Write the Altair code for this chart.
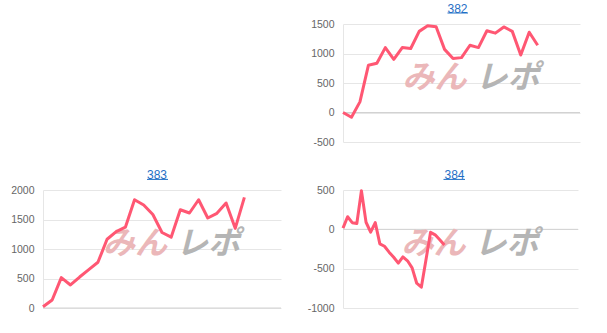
import altair as alt
import pandas as pd

# ---- data ----
v382 = [0, -80, 180, 800, 835, 1100, 900, 1100, 1085, 1375, 1470, 1455, 1070, 915,
        930, 1140, 1100, 1385, 1345, 1450, 1375, 975, 1360, 1140]
v383 = [20, 135, 515, 390, 525, 650, 775, 1165, 1295, 1370, 1835, 1745, 1585, 1280,
        1200, 1665, 1610, 1835, 1525, 1605, 1780, 1350, 1875]
v384 = [15, 160, 85, 75, 490, 90, -35, 85, -185, -215, -290, -355, -430, -350, -400,
        -490, -685, -735, -390, -38, -70, -133, -200]

titles = ["382", "383", "384"]
xmax = [28, 26, 51]
ydomains = [[-500, 1500], [0, 2000], [-1000, 500]]
yticks = [[-500, 0, 500, 1000, 1500], [0, 500, 1000, 1500, 2000], [-1000, -500, 0, 500]]

LINE = "#ff5773"
BLUE = "#1f6fc5"
FONT = "Liberation Sans"
NOSTROKE = alt.ViewBackground(stroke="transparent", strokeWidth=0, strokeOpacity=0)


def panel(vals, xm, ydom, yt, title, width, height, extent, tdx, ul):
    df = pd.DataFrame({"i": list(range(len(vals))), "v": vals})
    one = pd.DataFrame({"k": [0]})
    zero = pd.DataFrame({"v": [0]})
    yscale = alt.Scale(domain=ydom, nice=False, zero=False)
    yaxis = alt.Axis(values=yt, title=None, ticks=False, labelPadding=9,
                     labelFontSize=10.5, labelColor="#666", labelFont=FONT,
                     labelExpr="'' + datum.value",
                     gridColor="#e6e6e6", domainColor="#e6e6e6",
                     minExtent=extent, maxExtent=extent, labelFlush=False)
    line = alt.Chart(df).mark_line(color=LINE, strokeWidth=3, strokeJoin="round").encode(
        x=alt.X("i:Q", scale=alt.Scale(domain=[0, xm], nice=False, zero=False), axis=None),
        y=alt.Y("v:Q", scale=yscale, axis=yaxis),
    )
    zrule = alt.Chart(zero).mark_rule(color="#d2d2d2", strokeWidth=1).encode(
        y=alt.Y("v:Q", scale=yscale, axis=yaxis)
    )
    cx = width / 2 + 9
    cy = height / 2 - 5
    wm1 = alt.Chart(one).mark_text(text="みん", font="Noto Sans CJK JP", fontSize=32,
                                   fontWeight="bold", fontStyle="italic",
                                   color="#ebb7b9", baseline="middle", align="center").encode(
        x=alt.value(cx - 36), y=alt.value(cy))
    wm2 = alt.Chart(one).mark_text(text="レポ", font="Noto Sans CJK JP", fontSize=32,
                                   fontWeight="bold", fontStyle="italic",
                                   color="#b5b5b5", baseline="middle", align="center").encode(
        x=alt.value(cx + 37), y=alt.value(cy))
    und = alt.Chart(one).mark_rule(color=BLUE, strokeWidth=1).encode(
        x=alt.value(ul[0]), x2=alt.value(ul[1]), y=alt.value(ul[2]))
    return alt.layer(zrule, wm1, wm2, line, und).properties(
        width=width, height=height, view=NOSTROKE,
        title=alt.TitleParams(text=title, fontSize=12, color=BLUE, font=FONT,
                              fontWeight="normal", anchor="middle", dx=tdx, offset=-3),
    )


c382 = panel(v382, xmax[0], ydomains[0], yticks[0], titles[0], 237, 118, 40, -4, (104.5, 125, -11))
c383 = panel(v383, xmax[1], ydomains[1], yticks[1], titles[1], 238, 118, 43, -5, (104, 125, -10.6))
c384 = panel(v384, xmax[2], ydomains[2], yticks[2], titles[2], 235, 118, 40, -6, (100.5, 122, -10.6))

spacer = alt.Chart(pd.DataFrame({"k": [0]})).mark_point(opacity=0).encode(
    x=alt.value(100), y=alt.value(50)).properties(width=238, height=118, view=NOSTROKE)

chart = alt.concat(
    spacer, c382, c383, c384, columns=2,
    spacing=alt.RowColnumber(row=20, column=21),
).properties(
    padding={"left": 0, "top": 2, "right": 0, "bottom": 0}
).configure_view(strokeWidth=0, stroke="transparent").configure(background="white")

chart.save("out.html", embed_options={"renderer": "svg", "actions": False})
